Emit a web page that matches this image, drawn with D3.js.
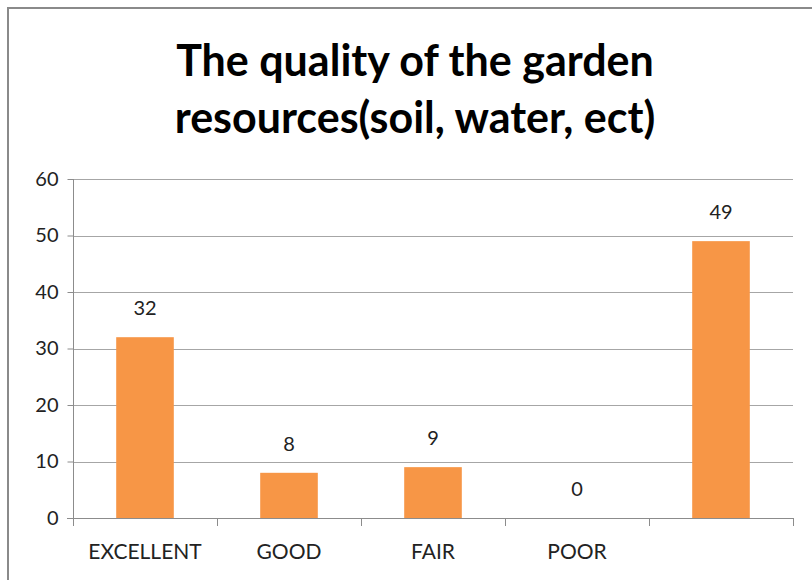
<!DOCTYPE html>
<html>
<head>
<meta charset="utf-8">
<script src="https://cdn.jsdelivr.net/npm/d3@7"></script>
<style>
  body { margin: 0; background: #fff; }
  svg { display: block; font-family: Lato, "Open Sans", sans-serif; }
</style>
</head>
<body>
<svg id="chart" width="812" height="580"></svg>
<script>
// chart data
var categories = ['EXCELLENT', 'GOOD', 'FAIR', 'POOR', ''];
var values = [32, 8, 9, 0, 49];
var yTicks = [0, 10, 20, 30, 40, 50, 60];
var titleLines = ['The quality of the garden', 'resources(soil, water, ect)'];

var svg = d3.select('#chart');
var margin = {left: 73, right: 19, top: 179, bottom: 62};
var W = 812, H = 580;

// outer border (only top and left visible in frame)
svg.append('rect')
  .attr('x', 8).attr('y', 8)
  .attr('width', 830).attr('height', 600)
  .attr('fill', 'none')
  .attr('stroke', '#8a8a8a')
  .attr('stroke-width', 2);

var x = d3.scaleBand()
  .domain(categories.map(function(d, i) { return i; }))
  .range([margin.left, W - margin.right])
  .paddingInner(0.6).paddingOuter(0.3);

var y = d3.scaleLinear().domain([0, 60]).range([H - margin.bottom, margin.top]);

// gridlines
svg.append('g').selectAll('line').data(yTicks.filter(function(d) { return d > 0; }))
  .join('line')
  .attr('x1', margin.left).attr('x2', W - margin.right)
  .attr('y1', function(d) { return Math.round(y(d)) + 0.5; })
  .attr('y2', function(d) { return Math.round(y(d)) + 0.5; })
  .attr('stroke', '#a6a6a6').attr('stroke-width', 1);

// bars
svg.append('g').selectAll('rect').data(values)
  .join('rect')
  .attr('x', function(d, i) { return x(i); })
  .attr('width', x.bandwidth())
  .attr('y', function(d) { return y(d); })
  .attr('height', function(d) { return y(0) - y(d); })
  .attr('fill', '#f79646');

// data labels
svg.append('g').selectAll('text').data(values)
  .join('text')
  .attr('x', function(d, i) { return x(i) + x.bandwidth() / 2; })
  .attr('y', function(d) { return y(d) - 22; })
  .attr('text-anchor', 'middle')
  .attr('font-size', 20)
  .attr('fill', '#222')
  .text(function(d) { return d; });

// y axis
var yAxis = d3.axisLeft(y).tickValues(yTicks).tickSize(6).tickPadding(9);
var gy = svg.append('g').attr('transform', 'translate(' + (margin.left + 0.5) + ',0)').call(yAxis);
gy.selectAll('path,line').attr('stroke', '#8c8c8c');
gy.select('path').attr('d', 'M0,' + y(60) + 'V' + y(0));
gy.selectAll('text').attr('font-size', 20).attr('fill', '#222').attr('font-family', 'Lato, sans-serif');

// x axis: tick marks at category boundaries
var step = (W - margin.right - margin.left) / categories.length;
var gx = svg.append('g');
gx.append('line')
  .attr('x1', margin.left - 6).attr('x2', W - margin.right)
  .attr('y1', Math.round(y(0)) + 0.5).attr('y2', Math.round(y(0)) + 0.5)
  .attr('stroke', '#8c8c8c');
gx.selectAll('.tk').data(d3.range(categories.length + 1))
  .join('line').attr('class', 'tk')
  .attr('x1', function(i) { return Math.round(margin.left + i * step) + 0.5; })
  .attr('x2', function(i) { return Math.round(margin.left + i * step) + 0.5; })
  .attr('y1', y(0)).attr('y2', y(0) + 8)
  .attr('stroke', '#8c8c8c');
gx.selectAll('text').data(categories)
  .join('text')
  .attr('x', function(d, i) { return x(i) + x.bandwidth() / 2; })
  .attr('y', y(0) + 41)
  .attr('text-anchor', 'middle')
  .attr('font-size', 21)
  .attr('fill', '#222')
  .text(function(d) { return d; });

// title
svg.append('g').selectAll('text').data(titleLines)
  .join('text')
  .attr('x', 415)
  .attr('y', function(d, i) { return 76 + i * 57; })
  .attr('text-anchor', 'middle')
  .attr('font-size', 43)
  .attr('font-weight', 'bold')
  .attr('fill', '#000')
  .text(function(d) { return d; });
</script>
</body>
</html>
